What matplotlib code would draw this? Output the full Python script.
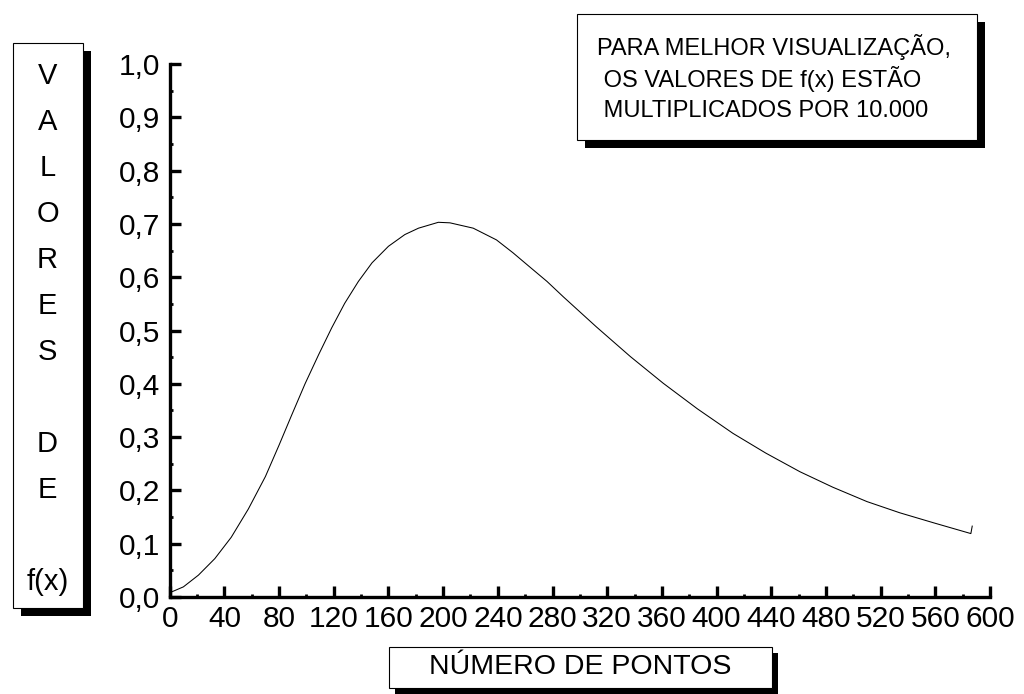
import matplotlib.pyplot as plt
from matplotlib.patches import Rectangle
from matplotlib.ticker import MultipleLocator, FuncFormatter

plt.rcParams["font.family"] = ["Liberation Sans", "DejaVu Sans"]

# curve (f(x) * 10.000)
pontos = [0, 10, 21, 33, 45, 57.5, 70, 80, 89, 99, 109, 118.5, 128, 138, 148,
          160, 172, 182, 196.5, 205, 222, 239, 251, 263, 276, 288, 312, 337, 361,
          386, 412, 436, 461, 485, 510, 534, 559, 586, 587]
valores = [0.008, 0.019, 0.041, 0.072, 0.112, 0.165, 0.226, 0.285, 0.340, 0.400,
           0.455, 0.505, 0.551, 0.592, 0.627, 0.658, 0.680, 0.692, 0.703, 0.702,
           0.692, 0.670, 0.646, 0.620, 0.592, 0.563, 0.507, 0.451, 0.401, 0.353,
           0.307, 0.270, 0.235, 0.206, 0.179, 0.158, 0.139, 0.119, 0.133]

x_ticks = list(range(0, 601, 40))
y_ticks = [i / 10 for i in range(11)]

letras = ["V", "A", "L", "O", "R", "E", "S", "", "D", "E", "", "f(x)"]
nota = ["PARA MELHOR VISUALIZAÇÃO,",
        " OS VALORES DE f(x) ESTÃO",
        " MULTIPLICADOS POR 10.000"]

W, H = 1024, 694
fig = plt.figure(figsize=(W / 100, H / 100), dpi=100)


def fx(px):
    return px / W


def fy(py):
    return 1 - py / H


# axes placed in pixel terms
ax = fig.add_axes([fx(169.7), fy(597), (990 - 169.7) / W, 533 / H])
ax.plot(pontos, valores, color="black", lw=0.75, clip_on=False)
ax.set_xlim(0, 600)
ax.set_ylim(0, 1.0)

for s in ["top", "right"]:
    ax.spines[s].set_visible(False)
for s in ["left", "bottom"]:
    ax.spines[s].set_linewidth(2.4)

ax.set_xticks(x_ticks)
ax.set_yticks(y_ticks)
ax.xaxis.set_minor_locator(MultipleLocator(20))
ax.yaxis.set_minor_locator(MultipleLocator(0.05))
ax.yaxis.set_major_formatter(FuncFormatter(lambda v, p: f"{v:.1f}".replace(".", ",")))
ax.tick_params(which="major", direction="in", length=8, width=2.4, labelsize=21.5)
ax.tick_params(which="minor", direction="in", length=2.5, width=2)
ax.tick_params(axis="x", which="major", pad=6)
ax.tick_params(axis="y", which="major", pad=7)


# boxes with black drop shadow
def caixa(x0, y0, x1, y1, off):
    fig.patches.append(Rectangle((fx(x0 + off), fy(y1 + off)), (x1 - x0) / W, (y1 - y0) / H,
                                 transform=fig.transFigure, facecolor="black",
                                 edgecolor="none", zorder=1))
    fig.patches.append(Rectangle((fx(x0), fy(y1)), (x1 - x0) / W, (y1 - y0) / H,
                                 transform=fig.transFigure, facecolor="white",
                                 edgecolor="black", lw=0.8, zorder=2))


caixa(12.7, 43, 82.7, 608, 8)
for i, t in enumerate(letras):
    fig.text(fx(47.5), fy(76 + 46 * i), t, ha="center", va="center", fontsize=21, zorder=3)

caixa(389, 647, 772, 688, 6)
fig.text(fx(580), fy(667), "NÚMERO DE PONTOS", ha="center", va="center", fontsize=20.5, zorder=3)

caixa(577, 14, 977, 140, 8)
for i, t in enumerate(nota):
    fig.text(fx(597), fy(47 + 32 * i), t, ha="left", va="center", fontsize=17, zorder=3)

fig.savefig("out.png", dpi=100)
